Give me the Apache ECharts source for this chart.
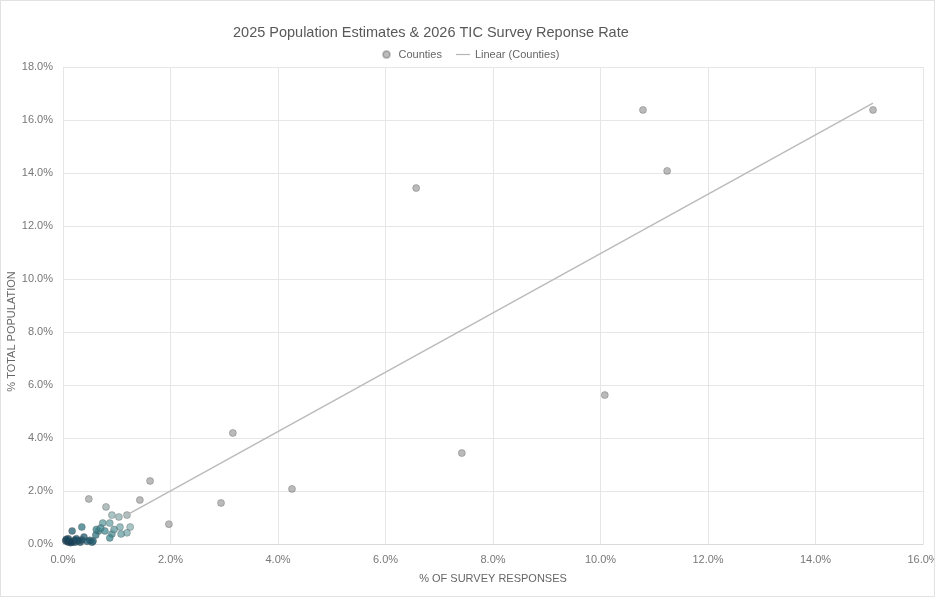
<!DOCTYPE html>
<html><head><meta charset="utf-8">
<script src="https://cdn.jsdelivr.net/npm/echarts@6/dist/echarts.min.js"></script>
<style>html,body{margin:0;padding:0;background:#fff}#c{width:933px;height:595px;border:1px solid #e2e2e2}</style>
</head><body><div id="c"></div>
<script>
// % of survey responses (x) and % total population (y) per county
const surveyPct = [15.07,10.79,11.24,6.57,10.08,7.42,3.16,4.26,2.94,1.97,1.62,1.43,
  0.48,0.80,0.91,1.04,1.19,0.35,0.17,0.74,0.87,1.06,1.25,0.66,0.78,1.19,1.08,0.91,0.87,0.61,0.39,
  0.09,0.17,0.22,0.32,0.54,0.56,0.22,0.35,0.05,0.12,0.14,0.28,0.50,0.06,0.10,0.25,0.45,0.62,0.70,0.95];
const popPct = [16.38,16.38,14.08,13.43,5.62,3.43,4.19,2.08,1.55,0.75,2.38,1.66,
  1.70,1.40,1.09,1.02,1.09,0.64,0.49,0.79,0.79,0.64,0.64,0.49,0.49,0.42,0.38,0.38,0.23,0.34,0.26,
  0.08,0.08,0.07,0.07,0.07,0.11,0.15,0.15,0.12,0.10,0.05,0.12,0.14,0.18,0.20,0.20,0.10,0.55,0.60,0.55];
// linear trendline endpoints (Linear (Counties))
const trendX = [1.20, 15.07];
const trendY = [1.11, 16.64];
const xTicks = [0,2,4,6,8,10,12,14,16];
const yTicks = [0,2,4,6,8,10,12,14,16,18];

const pts = surveyPct.map((x,i)=>[x, popPct[i], Math.min(Math.sqrt(x*x+popPct[i]*popPct[i]), 1.8)]);
const trend = trendX.map((x,i)=>[x, trendY[i]]);
const narrow = "'Liberation Sans Narrow','Liberation Sans',sans-serif";
const chart = echarts.init(document.getElementById('c'));
chart.setOption({
  animation:false,
  title:{text:'2025 Population Estimates & 2026 TIC Survey Reponse Rate', left:227, top:19,
    textStyle:{fontSize:14.5, fontWeight:'normal', color:'#595959', fontFamily:"'Liberation Sans',sans-serif"}},
  legend:{top:43, left:376, itemGap:14, itemWidth:14, itemHeight:7,
    textStyle:{fontSize:11, color:'#666', fontFamily:"'Liberation Sans',sans-serif"},
    data:[{name:'Counties', icon:'circle', itemStyle:{color:'#a5a5a5'}},
          {name:'Linear (Counties)', icon:'path://M0,0H14V1.2H0Z', itemStyle:{color:'#b5b5b5'}}]},
  grid:{left:62, right:11, top:66, bottom:52, containLabel:false, outerBoundsMode:'none'},
  xAxis:{type:'value', min:xTicks[0], max:xTicks[xTicks.length-1], interval:2,
    name:'% OF SURVEY RESPONSES', nameLocation:'middle', nameGap:29, nameMoveOverlap:false,
    nameTextStyle:{fontSize:11, color:'#666', fontFamily:narrow},
    axisLine:{show:true, lineStyle:{color:'#d9d9d9'}}, axisTick:{show:false},
    axisLabel:{fontSize:11, color:'#777', fontFamily:narrow, formatter:v=>v.toFixed(1)+'%', margin:10},
    splitLine:{show:true, lineStyle:{color:'#e6e6e6'}}},
  yAxis:{type:'value', min:yTicks[0], max:yTicks[yTicks.length-1], interval:2,
    name:'% TOTAL POPULATION', nameLocation:'middle', nameGap:46, nameMoveOverlap:false,
    nameTextStyle:{fontSize:11, color:'#666', fontFamily:narrow, padding:[0,52,0,0]},
    axisLine:{show:false}, axisTick:{show:false},
    axisLabel:{fontSize:11, color:'#777', fontFamily:narrow, formatter:v=>v.toFixed(1)+'%', margin:10},
    splitLine:{show:true, lineStyle:{color:'#e6e6e6'}}},
  visualMap:{show:false, type:'continuous', seriesIndex:0, dimension:2, min:0, max:1.8,
    inRange:{color:['#0f3550','#1c566c','#3e8890','#88b2b2','#a3a3a3']}},
  series:[
    {name:'Counties', type:'scatter', data:pts, symbolSize:7,
      itemStyle:{opacity:0.75, borderColor:'rgba(70,70,70,0.4)', borderWidth:1}, z:3},
    {name:'Linear (Counties)', type:'line', data:trend, showSymbol:false, symbol:'none',
      lineStyle:{color:'#bbbbbb', width:1.5}, itemStyle:{color:'#bbbbbb'}, z:4}
  ]
});
</script></body></html>
